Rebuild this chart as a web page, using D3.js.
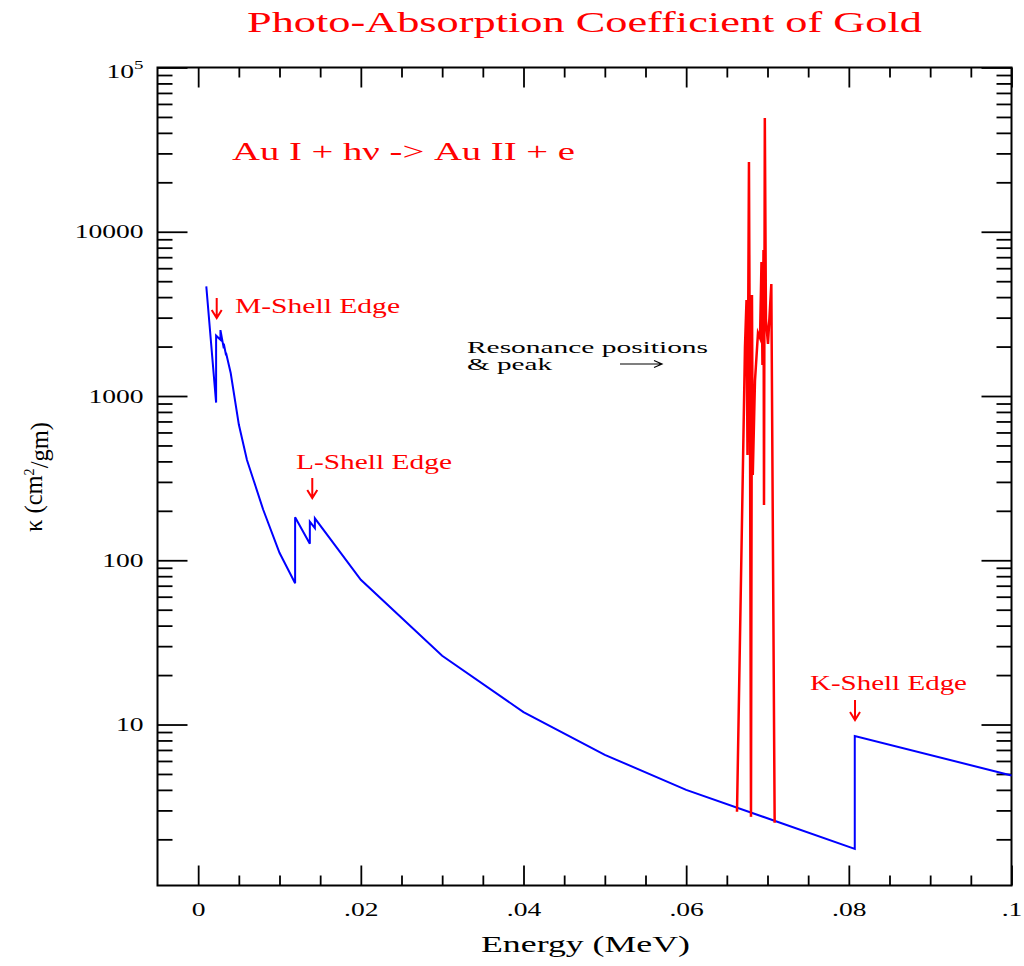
<!DOCTYPE html>
<html><head><meta charset="utf-8">
<script src="https://cdn.jsdelivr.net/npm/d3@7"></script>
<style>
body{margin:0;background:#fff}
text{font-family:"Times New Roman","Liberation Serif",Times,serif}
</style>
</head><body>
<svg id="chart" width="1024" height="966"></svg>
<script>
// ---- data ----
const blueEnergy = [0.001, 0.002206, 0.002206, 0.00274, 0.00274, 0.00315, 0.00315, 0.00343, 0.00343,
  0.004, 0.005, 0.006, 0.008, 0.010, 0.01192, 0.01192, 0.01373, 0.01373, 0.01435, 0.01435,
  0.02, 0.03, 0.04, 0.05, 0.06, 0.08073, 0.08073, 0.1];
const blueKappa = [4650, 912, 2330, 2200, 2520, 1950, 2080, 1770, 1830,
  1380, 670, 408, 203, 111, 72.4, 183, 126, 172, 157, 180,
  76, 26.2, 11.9, 6.54, 4.0, 1.75, 8.5, 4.9];
const redEnergy = [0.06625, 0.06723, 0.06742, 0.06754, 0.06772, 0.06785, 0.06797, 0.06809, 0.06819,
  0.06846, 0.06883, 0.06908, 0.06926, 0.06938, 0.06951, 0.06957, 0.06967, 0.06981, 0.07006, 0.07047, 0.07088];
const redKappa = [2.94, 1991, 3846, 438, 26600, 715, 2.74, 4125, 331,
  1236, 2421, 2257, 6548, 1546, 7746, 217, 49270, 2905, 2075, 4810, 2.52];
const xMajorTicks = [0, 0.02, 0.04, 0.06, 0.08, 0.1];
const xTickLabels = ["0", ".02", ".04", ".06", ".08", ".1"];
const xMinorTicks = [0.005, 0.01, 0.015, 0.025, 0.03, 0.035, 0.045, 0.05, 0.055,
  0.065, 0.07, 0.075, 0.085, 0.09, 0.095];
const yMajorTicks = [10, 100, 1000, 10000, 100000];
const yTickLabels = ["10", "100", "1000", "10000", "10|5"];
const yMinorTicks = [2,3,4,5,6,7,8,9, 20,30,40,50,60,70,80,90, 200,300,400,500,600,700,800,900,
  2000,3000,4000,5000,6000,7000,8000,9000, 20000,30000,40000,50000,60000,70000,80000,90000];
const edgeEnergies = {M: 0.00228, L: 0.01403, K: 0.08076};

// ---- layout ----
const FONT = '"Times New Roman","Liberation Serif",Times,serif';
const L = 157.5, R = 1011.5, T = 67.5, B = 885.5;
const svg = d3.select("#chart");
svg.append("rect").attr("width",1024).attr("height",966).attr("fill","#fff");
const x = d3.scaleLinear().domain([-0.005, 0.1]).range([L, R]);
const y = d3.scaleLog().domain([1.047, 1e5]).range([B, T]);

const STRETCH = 1.45;
function stretch(sel, f){
  sel.each(function(){
    const w = this.getComputedTextLength();
    d3.select(this).attr("textLength", w*f).attr("lengthAdjust","spacingAndGlyphs");
  });
}
function fit(sel, w){
  sel.attr("textLength", w).attr("lengthAdjust","spacingAndGlyphs");
}

// ---- axes (ticks inward) ----
function styleAxis(g){
  g.select(".domain").remove();
  g.selectAll(".tick line").attr("stroke","#000").attr("stroke-width",1.8);
}
// bottom
svg.append("g").attr("transform",`translate(0,${B})`)
  .call(d3.axisBottom(x).tickValues(xMinorTicks).tickSizeInner(-10).tickSizeOuter(0).tickFormat(""))
  .call(styleAxis);
const gxB = svg.append("g").attr("transform",`translate(0,${B})`)
  .call(d3.axisBottom(x).tickValues(xMajorTicks).tickSizeInner(-20).tickSizeOuter(0).tickPadding(17)
    .tickFormat((d,i)=>xTickLabels[i]))
  .call(styleAxis);
gxB.selectAll("text").attr("font-size",19).attr("fill","#000")
  .style("font-family",FONT).call(stretch, STRETCH);
// top
svg.append("g").attr("transform",`translate(0,${T})`)
  .call(d3.axisTop(x).tickValues(xMinorTicks).tickSizeInner(-10).tickSizeOuter(0).tickFormat(""))
  .call(styleAxis);
svg.append("g").attr("transform",`translate(0,${T})`)
  .call(d3.axisTop(x).tickValues(xMajorTicks).tickSizeInner(-20).tickSizeOuter(0).tickFormat(""))
  .call(styleAxis);
// left
svg.append("g").attr("transform",`translate(${L},0)`)
  .call(d3.axisLeft(y).tickValues(yMinorTicks).tickSizeInner(-15).tickSizeOuter(0).tickFormat(""))
  .call(styleAxis);
const gyL = svg.append("g").attr("transform",`translate(${L},0)`)
  .call(d3.axisLeft(y).tickValues(yMajorTicks).tickSizeInner(-30).tickSizeOuter(0).tickPadding(14)
    .tickFormat((d,i)=>yTickLabels[i]))
  .call(styleAxis);
gyL.selectAll("text").attr("font-size",19).attr("fill","#000")
  .style("font-family",FONT)
  .each(function(){
    const t = d3.select(this), s = t.text();
    if (s.includes("|")){
      const [base, sup] = s.split("|");
      t.text(null).attr("dy","0.55em");
      t.append("tspan").text(base);
      t.append("tspan").attr("dy","-0.75em").attr("font-size",13).text(sup);
    }
  })
  .call(stretch, STRETCH);
// right
svg.append("g").attr("transform",`translate(${R},0)`)
  .call(d3.axisRight(y).tickValues(yMinorTicks).tickSizeInner(-15).tickSizeOuter(0).tickFormat(""))
  .call(styleAxis);
svg.append("g").attr("transform",`translate(${R},0)`)
  .call(d3.axisRight(y).tickValues(yMajorTicks).tickSizeInner(-30).tickSizeOuter(0).tickFormat(""))
  .call(styleAxis);

// frame
svg.append("rect").attr("x",L).attr("y",T).attr("width",R-L).attr("height",B-T)
  .attr("fill","none").attr("stroke","#000").attr("stroke-width",2);

// ---- lines ----
const line = d3.line().x(d=>x(d[0])).y(d=>y(d[1]));
svg.append("path").datum(blueEnergy.map((e,i)=>[e, blueKappa[i]]))
  .attr("d", line).attr("fill","none").attr("stroke","#0000ff").attr("stroke-width",2);
svg.append("path").datum(redEnergy.map((e,i)=>[e, redKappa[i]]))
  .attr("d", line).attr("fill","none").attr("stroke","#ff0000").attr("stroke-width",2.5)
  .attr("stroke-linejoin","miter").attr("stroke-miterlimit",10);

// ---- texts ----
function txt(xp, yp, size, color, s, w){
  return svg.append("text").attr("x",xp).attr("y",yp).attr("font-size",size)
    .attr("fill",color).style("font-family",FONT).text(s).call(fit, w);
}
txt(247, 32, 30, "#ff0000", "Photo-Absorption Coefficient of Gold", 675);
txt(232, 159.5, 26, "#ff0000", "Au I + hν -> Au II + e", 343);
txt(235, 313, 21, "#ff0000", "M-Shell Edge", 165);
txt(296, 469, 21, "#ff0000", "L-Shell Edge", 156);
txt(810, 690, 21, "#ff0000", "K-Shell Edge", 157);
txt(467, 353, 16, "#000", "Resonance positions", 241);
txt(467, 370, 16, "#000", "& peak", 85);
txt(481, 952, 24, "#000", "Energy (MeV)", 209);
const yl = svg.append("text").attr("transform","translate(42,477) rotate(-90)")
  .attr("text-anchor","middle").attr("font-size",26).attr("fill","#000").style("font-family",FONT);
yl.append("tspan").text("κ (cm");
yl.append("tspan").attr("dy","-0.55em").attr("font-size",15).text("2");
yl.append("tspan").attr("dy","0.55em").text("/gm)");
yl.call(fit, 110);

// edge arrows
function downArrow(xp, y1, y2){
  svg.append("path")
    .attr("d",`M${xp},${y1}L${xp},${y2}M${xp-5},${y2-8}L${xp},${y2}L${xp+5},${y2-8}`)
    .attr("fill","none").attr("stroke","#ff0000").attr("stroke-width",2);
}
downArrow(x(edgeEnergies.M), 298, 318);
downArrow(x(edgeEnergies.L), 478, 498);
downArrow(x(edgeEnergies.K), 700, 720);
// resonance arrow
svg.append("path").attr("d","M620,364L662,364M654,360.5L662,364L654,367.5")
  .attr("fill","none").attr("stroke","#000").attr("stroke-width",1.2);
</script>
</body></html>
